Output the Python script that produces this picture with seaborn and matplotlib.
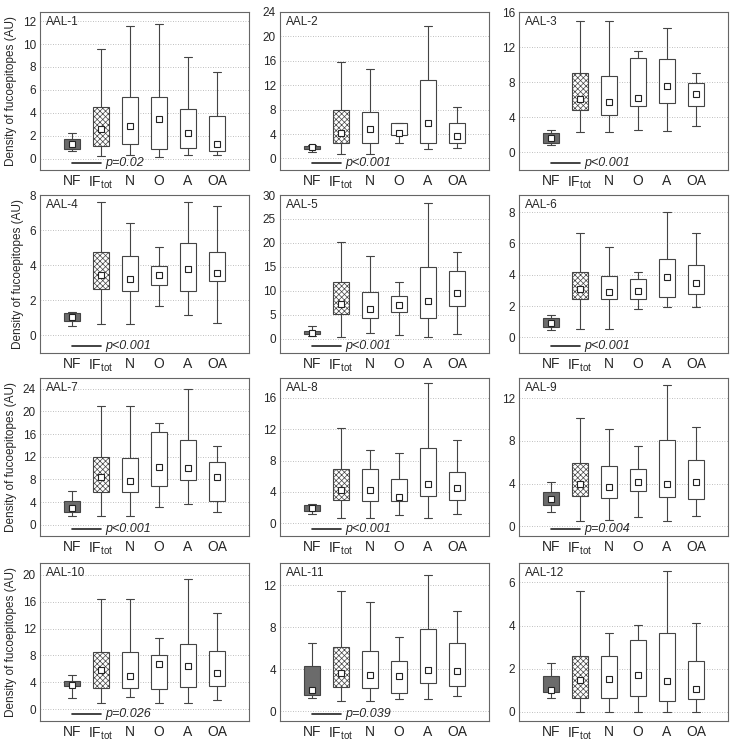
import numpy as np
import pandas as pd
import matplotlib
matplotlib.use("Agg")
import matplotlib.pyplot as plt
import seaborn as sns

# groups on the x axis
groups = ['NF', 'IF', 'N', 'O', 'A', 'OA']
group_labels = ['NF', r'IF$_{\mathregular{tot}}$', 'N', 'O', 'A', 'OA']
panel_names = ['AAL-%d' % (k + 1) for k in range(12)]

# five-number summaries (one row per panel, one column per group)
whisker_lo = [
    [0.67, 0.2, 0.3, 0.17, 0.35, 0.3],
    [1.1, 0.8, 0.8, 2.45, 1.5, 1.65],
    [0.9, 2.3, 2.3, 2.6, 2.4, 3.0],
    [0.53, 0.66, 0.66, 1.7, 1.15, 0.72],
    [0.6, 0.3, 1.1, 0.8, 0.3, 0.9],
    [0.47, 0.51, 0.51, 1.8, 1.95, 1.95],
    [1.6, 1.6, 1.6, 3.1, 3.6, 2.2],
    [1.2, 0.63, 0.63, 1.05, 0.63, 1.22],
    [1.37, 0.53, 0.62, 0.84, 0.53, 0.93],
    [1.6, 0.9, 1.8, 0.9, 0.9, 1.35],
    [1.25, 1.0, 1.0, 1.1, 1.1, 1.41],
    [0.64, 0.0, 0.0, 0.0, 0.0, 0.0],
]
q1 = [
    [0.87, 1.08, 1.25, 0.87, 0.96, 0.67],
    [1.6, 2.55, 2.55, 3.9, 2.45, 2.45],
    [1.1, 4.8, 4.3, 5.3, 5.6, 5.3],
    [0.81, 2.65, 2.51, 2.89, 2.55, 3.08],
    [0.9, 5.1, 4.4, 5.6, 4.4, 6.9],
    [0.68, 2.48, 2.42, 2.42, 2.55, 2.8],
    [2.3, 5.85, 5.7, 6.85, 7.9, 4.2],
    [1.55, 3.0, 2.85, 2.85, 3.5, 2.95],
    [2.0, 2.87, 2.7, 3.33, 2.8, 2.6],
    [3.4, 3.15, 3.15, 3.0, 3.3, 3.4],
    [1.57, 2.29, 2.2, 1.72, 2.66, 2.41],
    [0.92, 0.64, 0.64, 0.75, 0.49, 0.61],
]
medians = [
    [1.3, 2.55, 2.85, 3.45, 2.25, 1.28],
    [1.8, 4.2, 4.75, 4.2, 5.85, 3.65],
    [1.7, 6.1, 5.7, 6.2, 7.6, 6.7],
    [1.06, 3.46, 3.2, 3.46, 3.8, 3.55],
    [1.25, 7.2, 6.2, 7.0, 7.9, 9.5],
    [0.89, 3.06, 2.9, 2.95, 3.85, 3.5],
    [3.0, 8.4, 7.8, 10.2, 9.95, 8.4],
    [2.0, 4.3, 4.3, 3.37, 4.97, 4.5],
    [2.6, 3.95, 3.65, 4.17, 3.95, 4.17],
    [3.65, 5.9, 5.0, 6.7, 6.4, 5.4],
    [1.97, 3.6, 3.39, 3.29, 3.92, 3.86],
    [1.0, 1.49, 1.53, 1.72, 1.44, 1.07],
]
q3 = [
    [1.75, 4.5, 5.4, 5.35, 4.3, 3.75],
    [2.0, 7.9, 7.6, 5.85, 12.8, 5.75],
    [2.2, 9.0, 8.7, 10.8, 10.7, 7.9],
    [1.28, 4.75, 4.5, 3.97, 5.26, 4.78],
    [1.67, 11.8, 9.8, 9.0, 15.0, 14.1],
    [1.21, 4.18, 3.95, 3.75, 5.0, 4.65],
    [4.1, 11.9, 11.8, 16.4, 14.9, 11.1],
    [2.3, 6.95, 6.95, 5.6, 9.55, 6.6],
    [3.18, 5.9, 5.67, 5.4, 8.1, 6.23],
    [4.15, 8.5, 8.5, 8.0, 9.75, 8.65],
    [4.3, 6.1, 5.7, 4.76, 7.77, 6.49],
    [1.68, 2.59, 2.59, 3.32, 3.67, 2.36],
]
whisker_hi = [
    [2.25, 9.6, 11.6, 11.75, 8.9, 7.6],
    [2.2, 15.8, 14.6, 5.85, 21.7, 8.35],
    [2.6, 15.0, 15.0, 11.6, 14.2, 9.1],
    [1.35, 7.58, 6.39, 5.03, 7.58, 7.39],
    [2.7, 20.1, 17.3, 11.8, 28.3, 18.0],
    [1.46, 6.67, 5.75, 4.2, 8.0, 6.65],
    [6.0, 20.9, 20.9, 18.0, 24.0, 13.9],
    [2.5, 12.1, 9.35, 8.9, 17.9, 10.65],
    [4.2, 10.2, 9.1, 7.54, 13.2, 9.35],
    [5.1, 16.4, 16.4, 10.65, 19.35, 14.35],
    [6.5, 11.4, 10.4, 7.05, 12.95, 9.5],
    [2.28, 5.59, 3.66, 4.01, 6.54, 4.13],
]

# axis ranges, tick steps and NF vs IF_tot p-values
y_limits = [(-1, 12.8), (-1.9, 24), (-2, 16), (-1, 8), (-3, 30), (-1, 9.1),
            (-2, 25.9), (-1.6, 18.5), (-0.9, 13.9), (-1.75, 21.75), (-0.95, 14.1), (-0.43, 6.9)]
y_steps = [2, 4, 4, 2, 5, 2, 4, 4, 4, 4, 4, 2]
p_values = ['p=0.02', 'p<0.001', 'p<0.001', 'p<0.001', 'p<0.001', 'p<0.001',
            'p<0.001', 'p<0.001', 'p=0.004', 'p=0.026', 'p=0.039', None]

box_colors = {'NF': '#6b6b6b', 'IF': 'white', 'N': 'white', 'O': 'white', 'A': 'white', 'OA': 'white'}

sns.set_style('white')
plt.rcParams['font.family'] = ['Liberation Sans', 'DejaVu Sans']
plt.rcParams['mathtext.fontset'] = 'custom'
plt.rcParams['mathtext.rm'] = 'Liberation Sans'
plt.rcParams['hatch.color'] = '#444444'
plt.rcParams['hatch.linewidth'] = 0.5

W, H = 730, 749
fig = plt.figure(figsize=(W / 100, H / 100), dpi=100)

lefts = [40, 280, 519]
tops = [12, 195, 378, 563]
aw, ah = 209, 158

for i in range(12):
    r, c = divmod(i, 3)
    ax = fig.add_axes([lefts[c] / W, 1 - (tops[r] + ah) / H, aw / W, ah / H])

    vals = np.array([whisker_lo[i], q1[i], medians[i], q3[i], whisker_hi[i]])
    df = pd.DataFrame({'group': np.repeat(groups, 5), 'value': vals.T.ravel()})

    sns.boxplot(data=df, x='group', y='value', hue='group', order=groups, hue_order=groups,
                palette=box_colors, legend=False, whis=(0, 100), width=0.55, showfliers=False,
                linecolor='#444444', linewidth=0.8, medianprops={'visible': False},
                capwidths=0.3, ax=ax)
    for patch, g in zip(ax.patches, groups):
        if g == 'IF':
            patch.set_hatch('xxxxxx')

    sns.pointplot(data=df, x='group', y='value', order=groups, estimator='median',
                  errorbar=None, linestyle='none', marker='s', markersize=4,
                  markerfacecolor='white', markeredgecolor='#222222', markeredgewidth=0.8,
                  color='#222222', zorder=5, ax=ax)

    ax.set_xlim(-1.1, 6.1)
    ax.set_ylim(*y_limits[i])
    ax.set_yticks(np.arange(0, y_limits[i][1] + 0.01, y_steps[i]))
    ax.set_xticks(range(6))
    ax.set_xticklabels(group_labels, fontsize=10)
    ax.tick_params(axis='both', length=0, pad=3)
    ax.tick_params(axis='y', labelsize=8.5)
    ax.set_xlabel('')
    if c == 0:
        ax.set_ylabel('Density of fucoepitopes (AU)', fontsize=8.5, labelpad=4)
    else:
        ax.set_ylabel('')

    ax.yaxis.grid(True, linestyle=(0, (1, 2)), color='#aaaaaa', linewidth=0.6)
    ax.xaxis.grid(False)
    ax.set_axisbelow(True)
    for sp in ax.spines.values():
        sp.set_color('#666666')
        sp.set_linewidth(0.8)

    ax.text(0.03, 0.975, panel_names[i], transform=ax.transAxes, va='top', ha='left', fontsize=8.5)

    if p_values[i]:
        ax.plot([0, 1], [0.045, 0.045], color='#222222', lw=1.2,
                transform=ax.get_xaxis_transform())
        ax.text(1.15, 0.045, p_values[i], style='italic', fontsize=9, va='center', ha='left',
                transform=ax.get_xaxis_transform())

fig.savefig('out.png', dpi=100)
